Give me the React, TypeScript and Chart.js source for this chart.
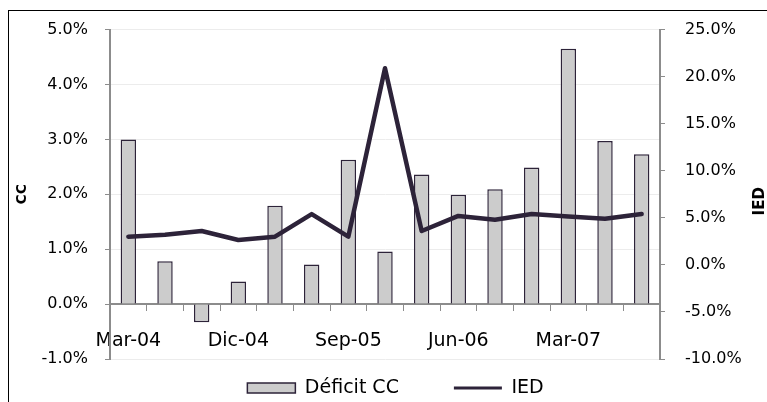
import React, { useEffect, useRef } from "react";
import { Chart, registerables } from "chart.js";

Chart.register(...registerables);

const categories = [
  "Mar-04", "Jun-04", "Sep-04", "Dic-04",
  "Mar-05", "Jun-05", "Sep-05", "Dic-05",
  "Mar-06", "Jun-06", "Sep-06", "Dic-06",
  "Mar-07", "Jun-07", "Sep-07",
];
// Déficit CC (% , left axis)
const deficitCC = [3.0, 0.78, -0.33, 0.41, 1.79, 0.72, 2.63, 0.96, 2.36, 1.99, 2.09, 2.49, 4.65, 2.97, 2.73];
// IED (% , right axis)
const ied = [3.0, 3.2, 3.6, 2.65, 3.0, 5.4, 3.0, 20.9, 3.6, 5.2, 4.8, 5.4, 5.15, 4.9, 5.4];

const ccAxis = [-1, 5, 1];
const iedAxis = [-10, 25, 5];

const FONT = '"DejaVu Sans", Verdana, sans-serif';
const DARK = "#2d2339";
const AXIS = "#8c8c8c";

const pct = (v: number | string) => Number(v).toFixed(1) + "%";

export default function App() {
  const ref = useRef<HTMLCanvasElement | null>(null);

  useEffect(() => {
    if (!ref.current) return;

    const iedTitle = {
      id: "iedTitle",
      afterDraw(chart: any) {
        const c = chart.ctx;
        const a = chart.chartArea;
        c.save();
        c.font = `bold 15px ${FONT}`;
        c.fillStyle = "#000";
        c.textAlign = "center";
        c.textBaseline = "middle";
        c.translate(a.right + 100, (a.top + a.bottom) / 2 + 7);
        c.rotate(-Math.PI / 2);
        c.fillText("IED", 0, 0);
        c.restore();
      },
    };

    const legendPlace = {
      id: "legendPlace",
      afterLayout(chart: any) {
        const l = chart.legend;
        if (!l) return;
        l.top = chart.chartArea.bottom - 35.5;
        l.bottom = chart.height;
        l.height = l.bottom - l.top;
        l.left += 12;
        l.right += 12;
      },
    };

    const chart = new Chart(ref.current, {
      type: "bar",
      data: {
        labels: categories,
        datasets: [
          {
            type: "bar",
            label: "Déficit CC",
            data: deficitCC,
            backgroundColor: "#cccccc",
            borderColor: DARK,
            borderWidth: 1.5,
            yAxisID: "y",
            order: 2,
            barPercentage: 0.42,
            categoryPercentage: 1.0,
          },
          {
            type: "line",
            label: "IED",
            data: ied,
            borderColor: DARK,
            backgroundColor: DARK,
            borderWidth: 4.5,
            pointRadius: 0,
            tension: 0,
            borderJoinStyle: "round",
            borderCapStyle: "round",
            yAxisID: "y1",
            order: 1,
          } as any,
        ],
      },
      options: {
        responsive: false,
        animation: false,
        layout: { padding: { top: 25, left: 0, right: 0, bottom: 0 } },
        plugins: {
          tooltip: { enabled: false },
          legend: {
            position: "bottom",
            maxHeight: 43,
            labels: {
              usePointStyle: true,
              pointStyleWidth: 48,
              boxHeight: 10,
              padding: 55,
              color: "#000",
              font: { family: FONT, size: 19 },
              sort: (a: any, b: any) => a.datasetIndex - b.datasetIndex,
              generateLabels: (ch: any) => {
                const items = (Chart.defaults.plugins.legend.labels as any).generateLabels(ch);
                items.forEach((it: any) => {
                  if (it.datasetIndex === 0) {
                    it.pointStyle = "rect";
                    it.lineWidth = 1.5;
                    it.fillStyle = "#cccccc";
                    it.strokeStyle = DARK;
                  } else {
                    it.pointStyle = "line";
                    it.lineWidth = 3;
                    it.strokeStyle = DARK;
                  }
                });
                return items;
              },
            },
          },
        },
        scales: {
          x: {
            position: { y: 0 } as any,
            offset: true,
            grid: {
              drawOnChartArea: false,
              drawTicks: true,
              tickLength: 6,
              tickColor: AXIS,
              offset: true,
            },
            border: { color: AXIS, width: 2 },
            ticks: {
              autoSkip: false,
              maxRotation: 0,
              minRotation: 0,
              padding: 20,
              color: "#000",
              font: { family: FONT, size: 19 },
              callback: (_v: any, i: number) => (i % 3 === 0 ? categories[i] : ""),
            },
            afterFit: (s: any) => {
              s.height = 0;
            },
          },
          y: {
            position: "left",
            min: ccAxis[0],
            max: ccAxis[1],
            ticks: {
              stepSize: ccAxis[2],
              callback: (v: any) => pct(v),
              color: "#000",
              padding: 17,
              font: { family: FONT, size: 16 },
            },
            grid: { color: "#ececec", tickColor: AXIS, tickLength: 5, lineWidth: 1 },
            border: { color: AXIS, width: 2 },
            title: {
              display: true,
              text: "CC",
              color: "#000",
              font: { family: FONT, size: 14, weight: "bold" },
              padding: { top: 14, bottom: 0 },
            },
            afterFit: (s: any) => {
              s.width = 110;
            },
          },
          y1: {
            position: "right",
            min: iedAxis[0],
            max: iedAxis[1],
            ticks: {
              stepSize: iedAxis[2],
              callback: (v: any) => pct(v),
              color: "#000",
              padding: 20,
              font: { family: FONT, size: 16 },
            },
            grid: { drawOnChartArea: false, tickColor: AXIS, tickLength: 5 },
            border: { color: AXIS, width: 2 },
            afterFit: (s: any) => {
              s.width = 107;
            },
          },
        },
      },
      plugins: [iedTitle, legendPlace],
    });

    return () => chart.destroy();
  }, []);

  return (
    <>
      <div
        style={{
          position: "fixed",
          left: 8,
          top: 10,
          right: 0,
          bottom: 0,
          borderTop: "1px solid #000",
          borderLeft: "1px solid #000",
        }}
      />
      <canvas
        ref={ref}
        width={767}
        height={402}
        style={{ position: "fixed", left: 0, top: 0, width: 767, height: 402 }}
      />
    </>
  );
}
